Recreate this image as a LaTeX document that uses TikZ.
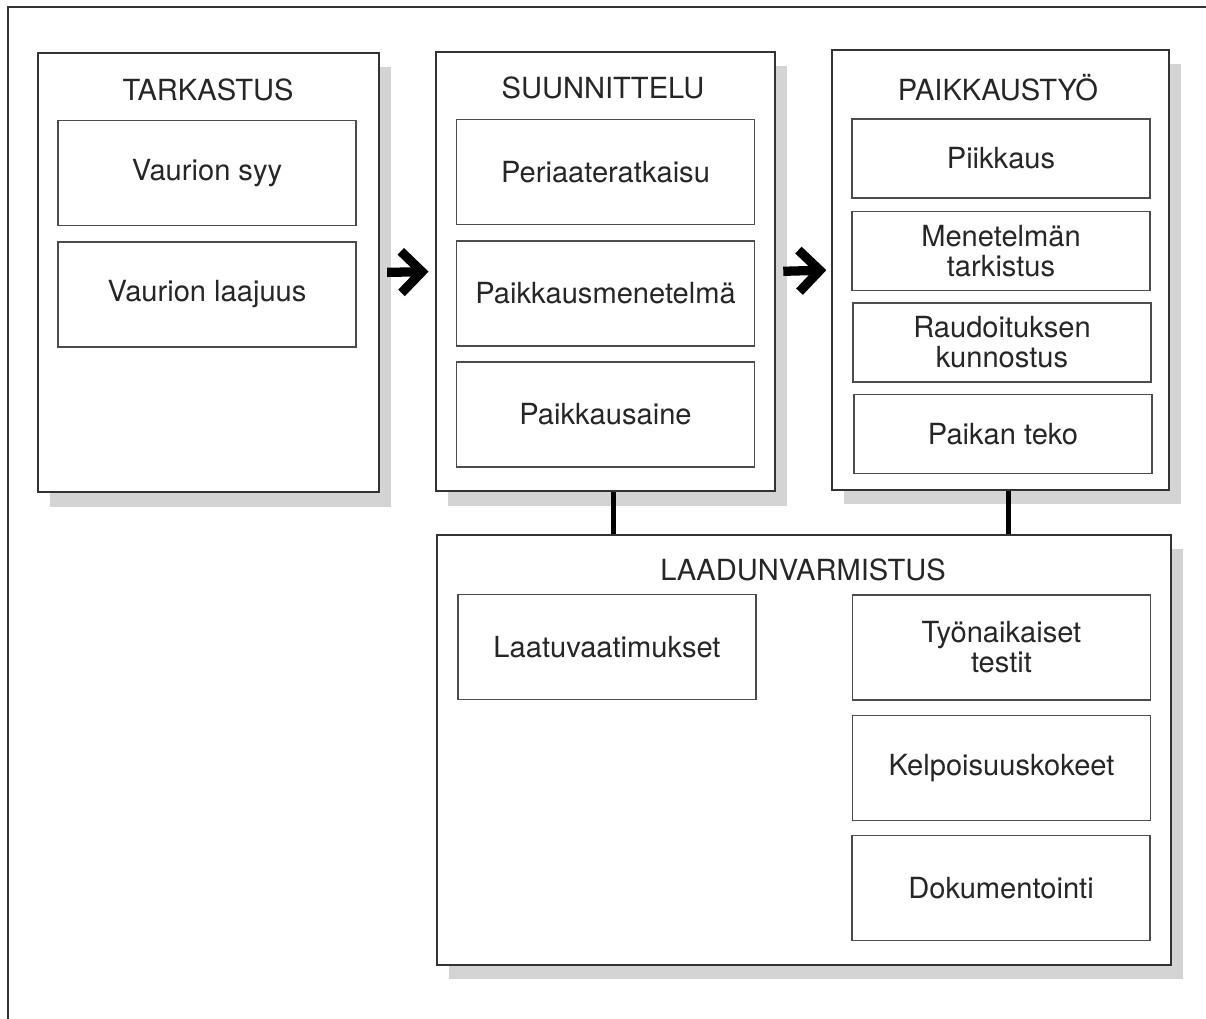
\documentclass[tikz,border=0pt]{standalone}
\usepackage{fontspec}
\setmainfont{TeX Gyre Heros}
\usetikzlibrary{arrows.meta,shadows}

\tikzset{
  phase/.style={draw=black!80, line width=0.7pt, fill=white, inner sep=0pt,
    general shadow={fill=black!17, shadow xshift=1.5mm, shadow yshift=-1.8mm}},
  task/.style={draw=black!70, line width=0.55pt, align=center, inner sep=0pt,
    minimum width=37.2mm, minimum height=13.1mm},
  smalltask/.style={task, minimum height=9.9mm},
  title/.style={inner sep=0pt},
  flow/.style={line width=3.3pt, -{Straight Barb[length=2.6mm,width=5.2mm]}},
  link/.style={line width=1.8pt},
}

\begin{document}
\begin{tikzpicture}[x=0.125mm,y=-0.125mm,
  font=\fontsize{10.35}{10.7}\selectfont, text=black!85]
\useasboundingbox (0,0) rectangle (1206,1018);
\draw[line width=0.9pt, black!80] (8,1030) -- (8,7) -- (1220,7);

% main phases
\node[phase, minimum width=42.6mm, minimum height=54.9mm] (tark) at (208.5,272.5) {};
\node[phase, minimum width=42.4mm, minimum height=54.9mm] (suun) at (605.5,271.5) {};
\node[phase, minimum width=42.1mm, minimum height=55mm] (paik) at (1000.5,270) {};
\node[phase, minimum width=91.75mm, minimum height=53.75mm] (laatu) at (804,750) {};

\node[title] at (208,90) {TARKASTUS};
\node[title] at (603,88) {SUUNNITTELU};
\node[title] at (998,88) {PAIKKAUSTYÖ};
\node[title] at (803,570) {LAADUNVARMISTUS};

% tarkastus
\node[task] (syy) at (207,173) {Vaurion syy};
\node[task] (laajuus) at (207,294.5) {Vaurion laajuus};

% suunnittelu
\node[task] (periaate) at (605.5,172) {Periaateratkaisu};
\node[task] (menetelma) at (605.5,293.5) {Paikkausmenetelmä};
\node[task] (aine) at (605.5,414.5) {Paikkausaine};

% paikkaustyo
\node[smalltask] (piikkaus) at (1001,158.5) {Piikkaus};
\node[smalltask] (tarkistus) at (1001,251) {Menetelmän\\tarkistus};
\node[smalltask] (raudoitus) at (1002,342.5) {Raudoituksen\\kunnostus};
\node[smalltask] (teko) at (1003,434) {Paikan teko};

% laadunvarmistus
\node[task] (vaatimukset) at (607,647) {Laatuvaatimukset};
\node[task] (testit) at (1001.5,647.5) {Työnaikaiset\\testit};
\node[task] (kelpoisuus) at (1001.5,768) {Kelpoisuuskokeet};
\node[task] (dokumentointi) at (1001,888) {Dokumentointi};

% connectors
\draw[flow, shorten <=0.9mm, shorten >=0.8mm] (tark.east) -- (suun.west);
\draw[flow, shorten <=0.9mm, shorten >=0.6mm] (suun.east) -- (paik.west);
\draw[link] ([xshift=0.95mm]suun.south) -- ([xshift=0.95mm]suun.south |- laatu.north);
\draw[link] ([xshift=1.05mm]paik.south) -- ([xshift=1.05mm]paik.south |- laatu.north);
\end{tikzpicture}
\end{document}
